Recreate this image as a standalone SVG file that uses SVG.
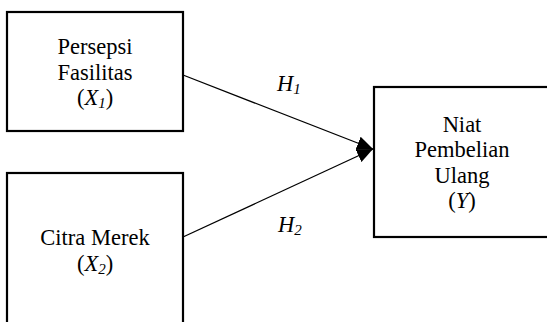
<svg xmlns="http://www.w3.org/2000/svg" width="547" height="322" viewBox="0 0 547 322">
<style>
.box{fill:#fff;stroke:#000;stroke-width:2.2}
.t{font-family:"Liberation Serif","Times New Roman",serif;font-size:22.5px;fill:#000;text-anchor:middle}
.h{font-family:"Liberation Serif","Times New Roman",serif;font-size:22.5px;fill:#000;font-style:italic}
.sub{font-size:15px}
.conn{stroke:#000;stroke-width:1.3;fill:none}
</style>
<defs>
<marker id="ah" viewBox="0 0 16 14" refX="16" refY="7" markerWidth="16" markerHeight="14" markerUnits="userSpaceOnUse" orient="auto">
<path d="M0,0 L16,7 L0,14 z" fill="#000"/>
</marker>
</defs>
<rect width="547" height="322" fill="#fff"/>
<g id="connectors">
<line class="conn" x1="183" y1="75" x2="373" y2="149" marker-end="url(#ah)"/>
<line class="conn" x1="183" y1="237" x2="373" y2="149" marker-end="url(#ah)"/>
<text class="h" x="277" y="91">H<tspan class="sub" dy="3">1</tspan></text>
<text class="h" x="278" y="232">H<tspan class="sub" dy="3">2</tspan></text>
</g>
<g id="x1">
<rect class="box" x="7" y="12" width="176" height="119"/>
<text class="t" x="95" y="54">Persepsi</text>
<text class="t" x="95" y="80">Fasilitas</text>
<text class="t" x="95" y="105">(<tspan font-style="italic">X</tspan><tspan font-style="italic" class="sub" dy="3">1</tspan><tspan dy="-3">)</tspan></text>
</g>
<g id="x2">
<rect class="box" x="7" y="173" width="176" height="170"/>
<text class="t" x="95" y="245">Citra Merek</text>
<text class="t" x="95" y="271">(<tspan font-style="italic">X</tspan><tspan font-style="italic" class="sub" dy="3">2</tspan><tspan dy="-3">)</tspan></text>
</g>
<g id="y">
<rect class="box" x="374" y="87" width="200" height="150"/>
<text class="t" x="462" y="132">Niat</text>
<text class="t" x="462" y="157">Pembelian</text>
<text class="t" x="462" y="183">Ulang</text>
<text class="t" x="462" y="208">(<tspan font-style="italic">Y</tspan>)</text>
</g>
</svg>
